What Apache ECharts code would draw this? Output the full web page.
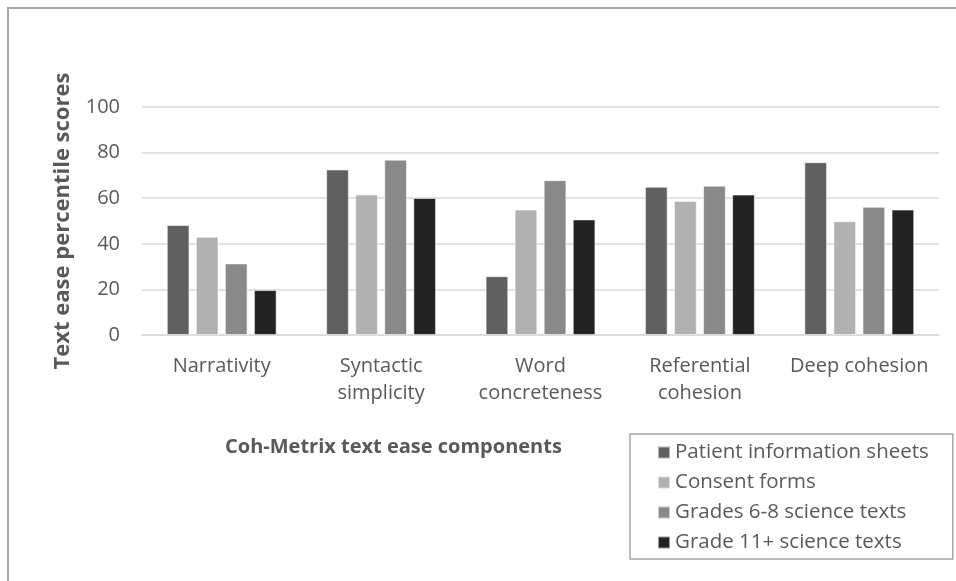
<!DOCTYPE html>
<html>
<head>
<meta charset="utf-8">
<script src="https://cdn.jsdelivr.net/npm/echarts@6/dist/echarts.min.js"></script>
<style>
  html, body { margin: 0; padding: 0; background: #fff; }
  #chart { width: 956px; height: 581px; }
</style>
</head>
<body>
<div id="chart"></div>
<script>
// Coh-Metrix component categories (x axis)
const categories = ['Narrativity', 'Syntactic\nsimplicity', 'Word\nconcreteness', 'Referential\ncohesion', 'Deep cohesion'];

// Percentile scores per text type
const patientSheets = [48.2, 72.6, 25.8, 65.0, 75.8];
const consentForms = [43.1, 61.6, 55.0, 58.8, 49.9];
const grades6to8 = [31.4, 76.9, 67.9, 65.5, 56.2];
const grade11plus = [19.7, 60.1, 50.7, 61.6, 55.0];

const seriesNames = ['Patient information sheets', 'Consent forms', 'Grades 6-8 science texts', 'Grade 11+ science texts'];
const seriesData = [patientSheets, consentForms, grades6to8, grade11plus];
const seriesColors = ['#606060', '#b1b1b1', '#898989', '#232323'];

const FONT = '"Open Sans", sans-serif';
const TEXT = '#595959';

const chart = echarts.init(document.getElementById('chart'), null, { renderer: 'canvas' });

chart.setOption({
  animation: false,
  backgroundColor: '#ffffff',
  textStyle: { fontFamily: FONT, color: TEXT },
  graphic: [{
    type: 'rect',
    shape: { x: 8, y: 8, width: 1000, height: 1000 },
    style: { fill: 'none', stroke: '#a6a6a6', lineWidth: 2 },
    silent: true
  }],
  title: {
    text: 'Coh-Metrix text ease components',
    left: 225,
    top: 437,
    padding: 0,
    textStyle: { fontFamily: FONT, fontSize: 20, fontWeight: 'bold', color: TEXT }
  },
  legend: {
    orient: 'vertical',
    left: 630,
    top: 434,
    padding: [8, 24, 6, 27],
    itemWidth: 12,
    itemHeight: 12,
    itemGap: 9,
    icon: 'rect',
    borderColor: '#a6a6a6',
    borderWidth: 1.5,
    data: seriesNames,
    textStyle: { fontFamily: FONT, fontSize: 20.5, color: TEXT, lineHeight: 20 }
  },
  grid: { left: 142, right: 17, top: 107, bottom: 246, containLabel: false },
  xAxis: {
    type: 'category',
    data: categories,
    axisLine: { lineStyle: { color: '#d9d9d9', width: 1.5 } },
    axisTick: { show: false },
    axisLabel: { fontFamily: FONT, fontSize: 20, color: TEXT, lineHeight: 27, margin: 18, interval: 0 }
  },
  yAxis: {
    type: 'value',
    min: 0,
    max: 100,
    interval: 20,
    name: 'Text ease percentile scores',
    nameLocation: 'middle',
    nameGap: 68,
    nameTextStyle: { fontFamily: FONT, fontSize: 22, fontWeight: 'bold', color: TEXT },
    axisLine: { show: false },
    axisTick: { show: false },
    axisLabel: { fontFamily: FONT, fontSize: 20, color: TEXT, margin: 22 },
    splitLine: { lineStyle: { color: '#d9d9d9', width: 1.5 } }
  },
  series: seriesNames.map((name, i) => ({
    name,
    type: 'bar',
    data: seriesData[i],
    barWidth: 22.7,
    barGap: '28%',
    itemStyle: { color: seriesColors[i], borderColor: 'rgba(255,255,255,0.55)', borderWidth: 1 }
  }))
});
</script>
</body>
</html>
